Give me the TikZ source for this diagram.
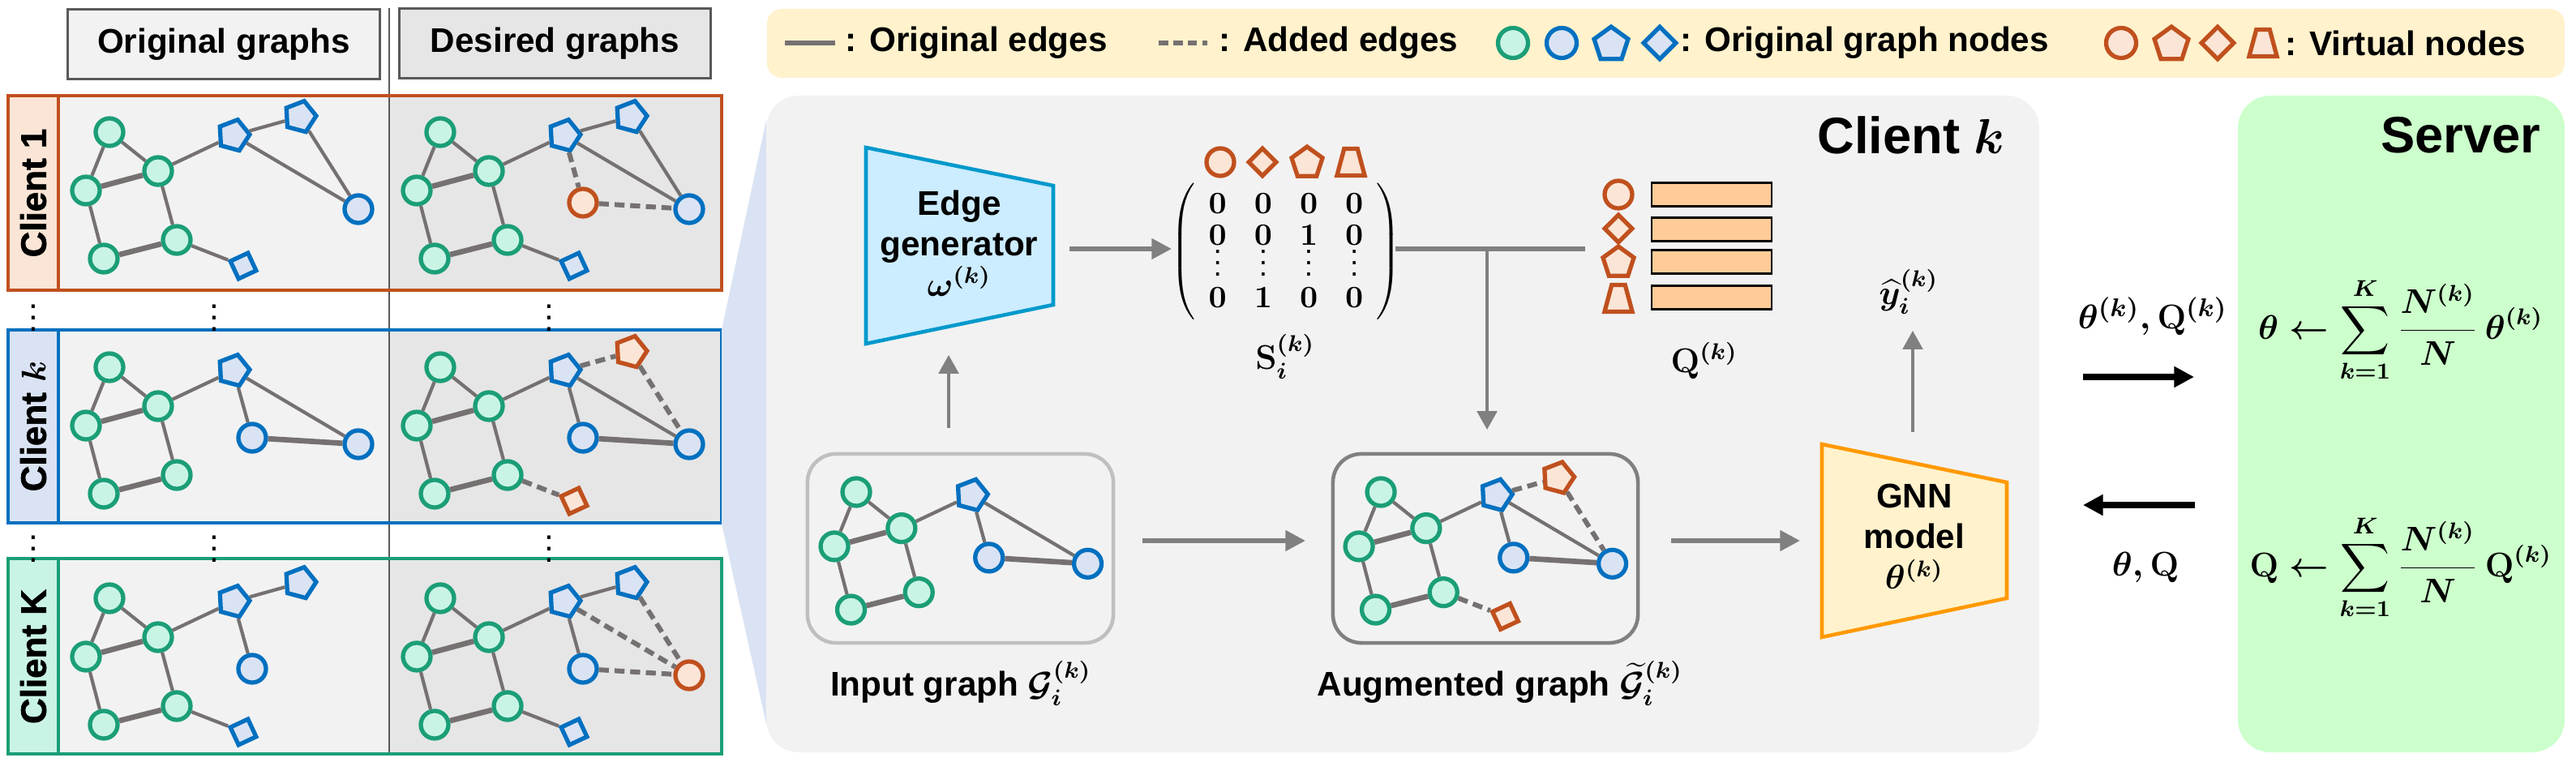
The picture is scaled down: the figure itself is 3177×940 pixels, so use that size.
\documentclass[tikz,border=0pt]{standalone}
\usepackage{amsmath,amssymb}
\usepackage[no-math]{fontspec}
\setmainfont{Liberation Sans}
\newfontfamily\heavyfont{Liberation Sans}[BoldFeatures={FakeBold=1.5}]
\usetikzlibrary{shapes.geometric,arrows.meta,positioning,matrix}

\definecolor{vline}{HTML}{C0501E}
\definecolor{vfill}{HTML}{FBE5D6}
\definecolor{bline}{HTML}{0070C0}
\definecolor{bfill}{HTML}{DAE3F3}
\definecolor{gline}{HTML}{1B9E77}
\definecolor{gfill}{HTML}{C9F4E5}
\definecolor{edgegray}{HTML}{767171}
\definecolor{arrowgray}{HTML}{808080}
\definecolor{boxlight}{HTML}{BFBFBF}
\definecolor{panelgray}{HTML}{F2F2F2}
\definecolor{darkpanel}{HTML}{E6E6E6}
\definecolor{headgray}{HTML}{595959}
\definecolor{legfill}{HTML}{FFF2CC}
\definecolor{srvfill}{HTML}{CCFFCC}
\definecolor{genline}{HTML}{0099CC}
\definecolor{genfill}{HTML}{CCECFF}
\definecolor{gnnline}{HTML}{FF9900}
\definecolor{embfill}{HTML}{FFCC99}

\tikzset{
  gnode/.style={circle,draw=gline,fill=gfill,line width=1.5pt,minimum size=0.34cm,inner sep=0pt},
  bnode/.style={circle,draw=bline,fill=bfill,line width=1.5pt,minimum size=0.34cm,inner sep=0pt},
  bpent/.style={regular polygon,regular polygon sides=5,draw=bline,fill=bfill,line width=1.5pt,minimum size=0.40cm,inner sep=0pt},
  bdiam/.style={diamond,draw=bline,fill=bfill,line width=1.5pt,minimum size=0.36cm,inner sep=0pt},
  vcirc/.style={circle,draw=vline,fill=vfill,line width=1.5pt,minimum size=0.34cm,inner sep=0pt},
  vpent/.style={regular polygon,regular polygon sides=5,draw=vline,fill=vfill,line width=1.5pt,minimum size=0.40cm,inner sep=0pt},
  vdiam/.style={diamond,draw=vline,fill=vfill,line width=1.5pt,minimum size=0.36cm,inner sep=0pt},
  vtrap/.style={trapezium,trapezium left angle=75,trapezium right angle=75,
    draw=vline,fill=vfill,line width=1.5pt,minimum width=0.33cm,minimum height=0.33cm,inner xsep=0.5pt,inner ysep=1pt},
  oedge/.style={draw=edgegray,line width=1.2pt},
  aedge/.style={draw=edgegray,line width=1.7pt,dash pattern=on 3.5pt off 2pt},
  fatarrow/.style={draw=arrowgray,line width=1.6pt,-{Triangle[length=7pt,width=7pt]}},
  thinarrow/.style={draw=arrowgray,line width=1pt,-{Triangle[length=6.5pt,width=7pt]}},
  blackarrow/.style={draw=black,line width=2pt,-{Triangle[length=7pt,width=7pt]}},
  headbox/.style={draw=headgray,line width=0.9pt,minimum width=3.84cm,minimum height=0.86cm,font=\fontsize{12}{14}\bfseries},
  clientlab/.style={rotate=90,font=\fontsize{12.5}{15}\heavyfont\bfseries},
  legtext/.style={anchor=west,font=\fontsize{12}{14}\bfseries,inner sep=0pt},
  lab/.style={font=\fontsize{12}{14}\bfseries},
  boxtext/.style={align=center,font=\fontsize{12}{14.2}\bfseries},
  mathlab/.style={font=\fontsize{12}{14}\selectfont\boldmath},
  vdot/.style={font=\fontsize{12}{14}\selectfont\boldmath},
  emb/.style={draw=black,fill=embfill,line width=0.7pt,minimum width=1.48cm,minimum height=0.29cm,inner sep=0pt},
  smatrix/.style={matrix of math nodes,
    nodes={font=\fontsize{10.5}{12}\selectfont\boldmath,inner sep=0pt,minimum width=0.2cm,text height=1.5ex,text depth=0.25ex},
    row sep=0.06cm,column sep=0.34cm,left delimiter=(,right delimiter=),
    every left delimiter/.style={xshift=0.14cm},every right delimiter/.style={xshift=-0.14cm}},
}

% shared part of every small graph, #1 = name prefix
\newcommand{\basegraph}[1]{%
  \node[gnode] (#1g1) at (135,163) {};
  \node[gnode] (#1g2) at (195,211) {};
  \node[gnode] (#1g3) at (106,235) {};
  \node[gnode] (#1g4) at (218,296) {};
  \node[gnode] (#1g5) at (128,319) {};
  \node[bpent,rotate=-15] (#1p1) at (288,167) {};
  \draw[oedge] (#1g1) -- (#1g2) (#1g1) -- (#1g3) (#1g2) -- (#1g4)
    (#1g3) -- (#1g5) (#1g2) -- (#1p1);
  \draw[oedge,line width=1.9pt] (#1g3) -- (#1g2) (#1g5) -- (#1g4);
}

\begin{document}
\begin{tikzpicture}[x=0.01cm,y=-0.01cm]
\useasboundingbox (0,0) rectangle (3177,940);

% left part: clients
\node[headbox,fill=panelgray] (orighead) at (276,54.5) {Original graphs};
\node[headbox,fill=darkpanel] (deshead) at (684.5,53.5) {Desired graphs};

\fill[vfill] (10,118) rectangle (72,358);
\fill[panelgray] (72,118) rectangle (480,358);
\fill[darkpanel] (480,118) rectangle (890,358);
\fill[bfill] (10,407) rectangle (72,645);
\fill[panelgray] (72,407) rectangle (480,645);
\fill[darkpanel] (480,407) rectangle (890,645);
\fill[gfill] (10,689) rectangle (72,930);
\fill[panelgray] (72,689) rectangle (480,930);
\fill[darkpanel] (480,689) rectangle (890,930);
\draw[headgray,line width=0.7pt] (480,10) -- (480,930);
\draw[vline,line width=1.3pt] (10,118) rectangle (890,358) (72,118) -- (72,358);
\draw[bline,line width=1.3pt] (10,407) rectangle (890,645) (72,407) -- (72,645);
\draw[gline,line width=1.3pt] (10,689) rectangle (890,930) (72,689) -- (72,930);

\node[clientlab] (lab1) at (41,238) {Client 1};
\node[clientlab] (labk) at (41,526) {Client {\boldmath$k$}};
\node[clientlab] (labK) at (41,810) {Client K};

\node[vdot] (dot1) at (41,382) {$\vdots$};
\node[vdot] (dot2) at (264,382) {$\vdots$};
\node[vdot] (dot3) at (677,382) {$\vdots$};
\node[vdot] (dot4) at (41,667) {$\vdots$};
\node[vdot] (dot5) at (264,667) {$\vdots$};
\node[vdot] (dot6) at (677,667) {$\vdots$};

% client 1
\basegraph{a}
\node[bpent,rotate=-15] (ap2) at (370,144) {};
\node[bnode] (ab1) at (442,258) {};
\node[bdiam,rotate=-20] (ad1) at (300,328) {};
\draw[oedge] (ag4) -- (ad1) (ap1) -- (ap2) (ap1) -- (ab1) (ap2) -- (ab1);

\begin{scope}[shift={(408,0)}]
\basegraph{b}
\node[bpent,rotate=-15] (bp2) at (370,144) {};
\node[bnode] (bb1) at (442,258) {};
\node[bdiam,rotate=-20] (bd1) at (300,328) {};
\node[vcirc] (bv) at (311,250) {};
\draw[oedge] (bg4) -- (bd1) (bp1) -- (bp2) (bp1) -- (bb1) (bp2) -- (bb1);
\draw[aedge] (bp1) -- (bv) (bv) -- (bb1);
\end{scope}

% client k
\begin{scope}[shift={(0,290)}]
\basegraph{c}
\node[bnode] (cb2) at (311,250) {};
\node[bnode] (cb1) at (442,258) {};
\draw[oedge] (cp1) -- (cb2) (cp1) -- (cb1);
\draw[oedge,line width=1.9pt] (cb2) -- (cb1);
\end{scope}

\begin{scope}[shift={(408,290)}]
\basegraph{d}
\node[bnode] (db2) at (311,250) {};
\node[bnode] (db1) at (442,258) {};
\node[vpent,rotate=-15] (dv1) at (370,144) {};
\node[vdiam,rotate=-20] (dv2) at (300,328) {};
\draw[oedge] (dp1) -- (db2) (dp1) -- (db1);
\draw[oedge,line width=1.9pt] (db2) -- (db1);
\draw[aedge] (dp1) -- (dv1) (dv1) -- (db1) (dg4) -- (dv2);
\end{scope}

% client K
\begin{scope}[shift={(0,575)}]
\basegraph{e}
\node[bpent,rotate=-15] (ep2) at (370,144) {};
\node[bnode] (eb2) at (311,250) {};
\node[bdiam,rotate=-20] (ed1) at (300,328) {};
\draw[oedge] (eg4) -- (ed1) (ep1) -- (ep2) (ep1) -- (eb2);
\end{scope}

\begin{scope}[shift={(408,575)}]
\basegraph{f}
\node[bpent,rotate=-15] (fp2) at (370,144) {};
\node[bnode] (fb2) at (311,250) {};
\node[bdiam,rotate=-20] (fd1) at (300,328) {};
\node[vcirc] (fv) at (442,258) {};
\draw[oedge] (fg4) -- (fd1) (fp1) -- (fp2) (fp1) -- (fb2);
\draw[aedge] (fp1) -- (fv) (fp2) -- (fv) (fb2) -- (fv);
\end{scope}

% legend
\fill[legfill,rounded corners=0.18cm] (946,11) rectangle (3163,96);
\coordinate (ls1) at (968,53);
\coordinate (ls2) at (1030,53);
\coordinate (ld1) at (1429,53);
\coordinate (ld2) at (1489,53);
\draw[oedge,line width=1.6pt] (ls1) -- (ls2);
\draw[aedge,dash pattern=on 3.3pt off 1.8pt] (ld1) -- (ld2);
\node[legtext] (lt1) at (1042,53) {: Original edges};
\node[legtext] (lt2) at (1503,53) {: Added edges};
\node[gnode,minimum size=0.37cm] (lg1) at (1866,53) {};
\node[bnode,minimum size=0.37cm] (lg2) at (1926,53) {};
\node[bpent,minimum size=0.44cm] (lg3) at (1987,55) {};
\node[bdiam,minimum size=0.42cm] (lg4) at (2047,53) {};
\node[legtext] (lt3) at (2072,53) {: Original graph nodes};
\node[vcirc,minimum size=0.37cm] (lv1) at (2616,53) {};
\node[vpent,minimum size=0.44cm] (lv2) at (2678,55) {};
\node[vdiam,minimum size=0.42cm] (lv3) at (2735,53) {};
\node[vtrap] (lv4) at (2791,53) {};
\node[legtext] (lt4) at (2818,53) {: Virtual nodes};

% zoom funnel and client k panel
\fill[bfill] (890,407) -- (945,148) -- (945,893) -- (890,646) -- cycle;
\fill[panelgray,rounded corners=0.4cm] (945,118) rectangle (2515,928);
\fill[srvfill,rounded corners=0.4cm] (2760,118) rectangle (3163,928);
\node[font=\fontsize{18}{21}\bfseries] (ctitle) at (2357,167) {Client {\boldmath$k$}};
\node[font=\fontsize{18}{21}\bfseries] (stitle) at (3035,167) {Server};

% edge generator
\draw[genline,fill=genfill,line width=1.3pt] (1068,182) -- (1299,229) -- (1299,376) -- (1068,424) -- cycle;
\node[boxtext] (gentext) at (1183,300) {Edge\\generator\\{\boldmath$\omega^{(k)}$}};
\coordinate (genout) at (1319,307);
\coordinate (matin) at (1445,307);
\draw[fatarrow] (genout) -- (matin);

% S matrix
\node[vcirc] (hc) at (1505,200) {};
\node[vdiam] (hd) at (1557,200) {};
\node[vpent] (hp) at (1612,201) {};
\node[vtrap] (ht) at (1666,200) {};
\matrix[smatrix] (smat) at (1586,310) {
  \mathbf{0} & \mathbf{0} & \mathbf{0} & \mathbf{0}\\
  \mathbf{0} & \mathbf{0} & \mathbf{1} & \mathbf{0}\\
  \smash{\vdots} & \smash{\vdots} & \smash{\vdots} & \smash{\vdots}\\
  \mathbf{0} & \mathbf{1} & \mathbf{0} & \mathbf{0}\\
};
\node[mathlab] (slab) at (1585,440) {$\mathbf{S}_i^{(k)}$};

\coordinate (tleft) at (1721,307);
\coordinate (tright) at (1955,307);
\coordinate (tmid) at (1834,307);
\coordinate (augin) at (1834,530);
\draw[arrowgray,line width=1.6pt] (tleft) -- (tright);
\draw[thinarrow] (tmid) -- (augin);

% Q
\node[vcirc] (qc) at (1996,240) {};
\node[vdiam] (qd) at (1996,282) {};
\node[vpent] (qp) at (1996,324) {};
\node[vtrap] (qt) at (1996,368) {};
\node[emb] (q1) at (2111,240) {};
\node[emb] (q2) at (2111,283) {};
\node[emb] (q3) at (2111,323) {};
\node[emb] (q4) at (2111,367) {};
\node[mathlab] (qlab) at (2102,445) {$\mathbf{Q}^{(k)}$};

% input and augmented graphs
\node[draw=boxlight,line width=1.3pt,rounded corners=0.35cm,minimum width=3.77cm,minimum height=2.33cm] (ingraph) at (1184.5,676.5) {};
\node[draw=arrowgray,line width=1.3pt,rounded corners=0.35cm,minimum width=3.76cm,minimum height=2.33cm] (auggraph) at (1832,676.5) {};

\begin{scope}[shift={(930.5,455.4)},scale=0.93]
\basegraph{i}
\node[bnode] (ib2) at (311,250) {};
\node[bnode] (ib1) at (442,258) {};
\draw[oedge] (ip1) -- (ib2) (ip1) -- (ib1);
\draw[oedge,line width=1.9pt] (ib2) -- (ib1);
\end{scope}

\begin{scope}[shift={(1577.5,455.4)},scale=0.93]
\basegraph{j}
\node[bnode] (jb2) at (311,250) {};
\node[bnode] (jb1) at (442,258) {};
\node[vpent,rotate=-15] (jv1) at (370,144) {};
\node[vdiam,rotate=-20] (jv2) at (300,328) {};
\draw[oedge] (jp1) -- (jb2) (jp1) -- (jb1);
\draw[oedge,line width=1.9pt] (jb2) -- (jb1);
\draw[aedge] (jp1) -- (jv1) (jv1) -- (jb1) (jg4) -- (jv2);
\end{scope}

\node[lab] (inlab) at (1185,843) {Input graph {\boldmath$\mathcal{G}_i^{(k)}$}};
\node[lab] (auglab) at (1850,843) {Augmented graph {\boldmath$\widetilde{\mathcal{G}}_i^{(k)}$}};

\coordinate (inup) at (1170,528);
\coordinate (genin) at (1170,438);
\draw[thinarrow] (inup) -- (genin);
\coordinate (inR) at (1409,667);
\coordinate (augL) at (1610,667);
\draw[fatarrow] (inR) -- (augL);
\coordinate (augR) at (2061,667);
\coordinate (gnnL) at (2220,667);
\draw[fatarrow] (augR) -- (gnnL);

% GNN
\draw[gnnline,fill=legfill,line width=1.3pt] (2247,548) -- (2475,595) -- (2475,738) -- (2247,786) -- cycle;
\node[boxtext] (gnntext) at (2361,662) {GNN\\model\\{\boldmath$\theta^{(k)}$}};
\coordinate (gnnup) at (2359,533);
\coordinate (yin) at (2359,408);
\draw[thinarrow] (gnnup) -- (yin);
\node[mathlab] (yhat) at (2354,360) {$\widehat{y}_i^{(k)}$};

% server exchange
\coordinate (upl) at (2569,465);
\coordinate (upr) at (2706,465);
\coordinate (dnr) at (2707,623);
\coordinate (dnl) at (2569,623);
\draw[blackarrow] (upl) -- (upr);
\draw[blackarrow] (dnr) -- (dnl);
\node[font=\fontsize{13}{15}\selectfont\boldmath] (uplab) at (2655,390) {$\theta^{(k)}, \mathbf{Q}^{(k)}$};
\node[font=\fontsize{13}{15}\selectfont\boldmath] (dnlab) at (2646,700) {$\theta, \mathbf{Q}$};

\node[font=\fontsize{12}{14}\selectfont\boldmath] (aggtheta) at (2961,407)
  {$\theta \leftarrow \displaystyle\sum_{k=1}^{K}\frac{N^{(k)}}{N}\,\theta^{(k)}$};
\node[font=\fontsize{12}{14}\selectfont\boldmath] (aggq) at (2961,700)
  {$\mathbf{Q} \leftarrow \displaystyle\sum_{k=1}^{K}\frac{N^{(k)}}{N}\,\mathbf{Q}^{(k)}$};
\end{tikzpicture}
\end{document}
